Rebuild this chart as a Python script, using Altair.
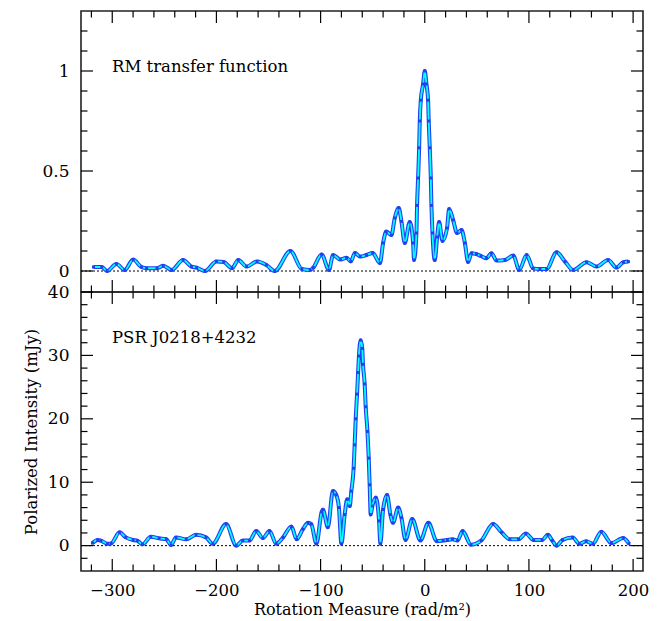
import altair as alt
import pandas as pd

# ---------------- data ----------------
rm_tf = [-318, -310, -305, -296, -288, -280, -272, -267, -257, -251, -243, -232, -224, -219, -211,
         -200, -193, -185, -179, -171, -161, -152, -144, -129, -118, -110, -107, -99, -92, -88,
         -81, -75, -71, -67, -62, -56, -50, -43, -40, -37, -32, -28.8, -25, -22.4, -19.2, -14.4,
         -11.2, -10.3, -8, -7.4, -6.4, -5.4, -4.8, -3.8, -1.6, 0, 1.6, 3.2, 3.8, 4.8, 5.8, 6.4,
         7.4, 9.6, 11.9, 13.8, 17, 21.4, 23.4, 27.2, 31, 35.3, 38.5, 41.6, 44.9, 49.7, 54, 59.3,
         64, 69, 77, 85, 90.7, 97.8, 104, 110.6, 117, 126.6, 134.6, 142.6, 155.4, 165, 176, 184,
         190.7, 195.5]
amp_tf = [0.02, 0.02, 0.0, 0.035, 0.005, 0.057, 0.02, 0.014, 0.014, 0.026, 0.005, 0.055, 0.022, 0.017, 0.0,
          0.048, 0.045, 0.014, 0.055, 0.022, 0.048, 0.03, 0.0, 0.1, 0.01, 0.005, 0.017, 0.083, 0.005, 0.08,
          0.057, 0.066, 0.048, 0.09, 0.072, 0.08, 0.09, 0.04, 0.14, 0.197, 0.18, 0.265, 0.315, 0.248, 0.14, 0.245,
          0.14, 0.055, 0.19, 0.328, 0.465, 0.616, 0.75, 0.854, 0.935, 1.0, 0.935, 0.854, 0.75, 0.616, 0.465, 0.328,
          0.19, 0.055, 0.17, 0.245, 0.15, 0.215, 0.31, 0.255, 0.19, 0.205, 0.14, 0.045, 0.089, 0.084, 0.075, 0.064,
          0.089, 0.052, 0.055, 0.077, 0.005, 0.08, 0.013, 0.01, 0.01, 0.094, 0.047, 0.005, 0.044, 0.022, 0.055, 0.017,
          0.044, 0.047]

rm_psr = [-319, -314, -311, -304.5, -301, -293, -287, -280, -276, -271, -263, -255, -248, -243.6, -238.8,
          -229, -219.5, -210, -203.5, -190.7, -181, -174.7, -168.3, -161.8, -155.4, -149, -142.6, -136,
          -128, -123, -117, -112, -109, -104, -99, -97.8, -93, -88.2, -85, -82.4, -80, -76.9, -74.4, -72,
          -70.5, -68.3, -67.3, -66.3, -65, -64, -63.2, -61.5, -60, -59.3, -57.7, -56.7, -55, -53.8, -52.9,
          -51.9, -50.3, -47, -43.9, -42.6, -40, -36.2, -33, -30.5, -25.5, -22.4, -18.5, -12, -4.2, 3.5,
          11.5, 17.6, 21.7, 26.6, 31.4, 36.3, 44.4, 54.2, 65.6, 73.7, 81.7, 90, 97, 104.5, 112.7, 118.2,
          122.4, 126.4, 132.2, 141.9, 148.4, 154.9, 161.4, 169.5, 179.2, 190.6, 196]
amp_psr = [0.4, 0.9, 0.8, 0.3, 0.35, 2.1, 1.3, 0.9, 0.8, 0.2, 1.4, 1.15, 1.0, 0.1, 1.3,
           1.0, 1.7, 1.3, 0.3, 3.4, 0.0, 0.8, 0.8, 2.3, 1.2, 2.3, 0.3, 1.3,
           3.0, 1.0, 2.6, 3.6, 3.4, 0.3, 5.3, 5.7, 2.9, 8.6, 8.0, 6.0, 0.3, 4.9, 7.3, 6.25,
           8.6, 12.2, 15.9, 20.0, 23.9, 27.3, 29.9, 32.4, 31.1, 28.6, 25.5, 21.9, 18.0, 13.8, 9.6,
           4.9, 6.25, 7.6, 3.9, 0.3, 5.7, 8.0, 4.9, 3.6, 6.0, 4.4, 0.9, 4.2, 0.8, 3.6,
           0.7, 0.8, 0.9, 1.0, 0.8, 2.3, 0.15, 0.8, 3.4, 2.1, 1.0, 1.0, 1.9, 0.9, 0.9, 1.7,
           0.8, 0.0, 0.9, 1.3, 0.3, 0.7, 0.3, 2.2, 0.4, 1.2, 0.3]

x_major = [-300, -200, -100, 0, 100, 200]
x_minor = [v for v in range(-320, 201, 20) if v % 100 != 0]
y_major_tf = [0, 0.5, 1]
y_minor_tf = [0.1, 0.2, 0.3, 0.4, 0.6, 0.7, 0.8, 0.9, 1.1, 1.2]
y_major_psr = [0, 10, 20, 30, 40]
y_minor_psr = [v for v in range(-2, 40, 2) if v % 10 != 0]

label_tf = "RM transfer function"
label_psr = "PSR J0218+4232"
x_title = "Rotation Measure (rad/m²)"
y_title = "Polarized Intensity (mJy)"

# ---------------- styling ----------------
W = 562
H_TOP = 281
H_BOT = 279
X_DOMAIN = [-330, 209.5]
FONT = "DejaVu Serif"
BLUE = "#2040f0"
CYAN = "#00ffff"
MAJ = 12
MIN = 6.5


def panel(rm, amp, ydomain, ymaj, ymin, height, label, label_y, xaxis, ytitle, yfmt):
    xs = alt.Scale(domain=X_DOMAIN, nice=False, zero=False)
    ys = alt.Scale(domain=ydomain, nice=False, zero=False)
    if ytitle is None:
        yaxis = alt.Axis(values=ymaj, ticks=False, tickSize=0, domain=False, grid=False, format=yfmt,
                         labelFont=FONT, labelFontSize=17, labelPadding=12, labelColor="black",
                         title=None)
    else:
        yaxis = alt.Axis(values=ymaj, ticks=False, tickSize=0, domain=False, grid=False, format=yfmt,
                         labelFont=FONT, labelFontSize=17, labelPadding=12, labelColor="black",
                         title=ytitle, titleFont=FONT, titleFontSize=16.5, titleFontWeight="normal",
                         titleColor="black", titlePadding=8)

    def X(field="rm"):
        return alt.X(f"{field}:Q", scale=xs, axis=xaxis)

    def Y(field="val"):
        return alt.Y(f"{field}:Q", scale=ys, axis=yaxis)

    df = pd.DataFrame({"rm": rm, "val": amp})
    base = alt.Chart(df)
    band = base.mark_line(color=BLUE, strokeWidth=4.0, interpolate="monotone").encode(x=X(), y=Y())
    core = base.mark_line(color=CYAN, strokeWidth=1.8, interpolate="monotone").encode(x=X(), y=Y())
    pts = base.mark_point(shape="square", filled=True, color=BLUE, size=9, opacity=1).encode(x=X(), y=Y())

    zero = alt.Chart(pd.DataFrame({"val": [0]})).mark_rule(
        color="black", strokeWidth=1, strokeDash=[2, 2]).encode(y=Y())

    layers = [zero, band, core, pts]

    xmaj = alt.Chart(pd.DataFrame({"rm": x_major}))
    xmin = alt.Chart(pd.DataFrame({"rm": x_minor}))
    for src, L in ((xmaj, MAJ), (xmin, MIN)):
        layers.append(src.mark_rule(color="black", strokeWidth=1.2).encode(
            x=X(), y=alt.value(height), y2=alt.value(height - L)))
        layers.append(src.mark_rule(color="black", strokeWidth=1.2).encode(
            x=X(), y=alt.value(0), y2=alt.value(L)))

    ymj = alt.Chart(pd.DataFrame({"val": ymaj}))
    ymn = alt.Chart(pd.DataFrame({"val": ymin}))
    for src, L in ((ymj, MAJ), (ymn, MIN)):
        layers.append(src.mark_rule(color="black", strokeWidth=1.2).encode(
            y=Y(), x=alt.value(0), x2=alt.value(L)))
        layers.append(src.mark_rule(color="black", strokeWidth=1.2).encode(
            y=Y(), x=alt.value(W), x2=alt.value(W - L)))

    txt = alt.Chart(pd.DataFrame({"t": [label]})).mark_text(
        align="left", baseline="middle", font=FONT, fontSize=16.5, color="black").encode(
        x=alt.value(31), y=alt.value(label_y), text="t:N")
    layers.append(txt)

    return alt.layer(*layers).properties(width=W, height=height)


top = panel(rm_tf, amp_tf, [-0.105, 1.3], y_major_tf, y_minor_tf, H_TOP, label_tf, 56, None, None, "~r")

bottom_xaxis = alt.Axis(values=x_major, ticks=False, tickSize=0, domain=False, grid=False,
                        labelFont=FONT, labelFontSize=16.5, labelPadding=11, labelColor="black",
                        labelFlush=False, format="d",
                        title=x_title, titleFont=FONT, titleFontSize=16, titleFontWeight="normal",
                        titleColor="black", titlePadding=3)
bottom = panel(rm_psr, amp_psr, [-4, 40], y_major_psr, y_minor_psr, H_BOT, label_psr, 46,
               bottom_xaxis, y_title, "d")

chart = alt.vconcat(top, bottom, spacing=0, bounds="flush").resolve_scale(
    x="independent", y="independent").properties(
    padding={"left": 14, "top": 1, "right": 5, "bottom": 0}
).configure_view(stroke="#222222", strokeWidth=1.6)

chart.save("out.html", embed_options={"renderer": "svg", "actions": False})
